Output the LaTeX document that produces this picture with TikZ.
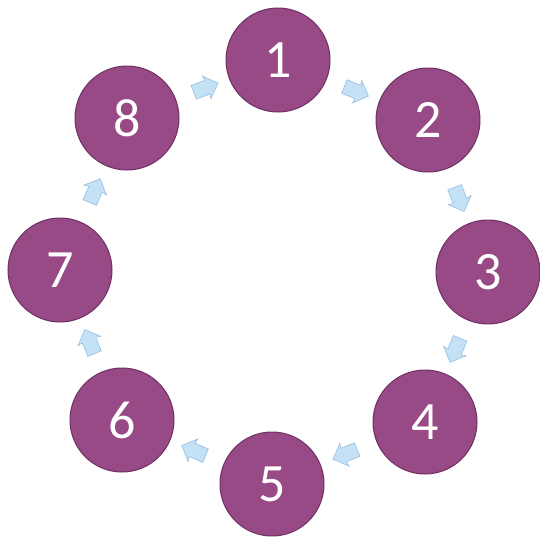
\documentclass[tikz,border=0pt]{standalone}
\usepackage{fontspec}
\setmainfont{Carlito}
\usepackage{tikz}
\usetikzlibrary{shapes.arrows, positioning}

\definecolor{stagepurple}{RGB}{152,74,134}
\definecolor{stageedge}{RGB}{110,48,98}
\definecolor{flowblue}{RGB}{196,226,246}
\definecolor{flowedge}{RGB}{150,190,225}

\begin{document}
\begin{tikzpicture}[x=1pt, y=-1pt, thick,
    stage/.style={circle, draw=stageedge, line width=1pt, fill=stagepurple, minimum size=104pt, inner sep=0pt, text=white, font=\fontsize{54}{54}\selectfont},
    flow/.style={single arrow, draw=flowedge, line width=0.6pt, fill=flowblue, minimum height=26pt, inner xsep=0pt, inner ysep=7pt, single arrow head extend=5pt, single arrow head indent=1pt, sloped, allow upside down}]

\useasboundingbox (0,0) rectangle (540,536);

\node[stage] (s1) at (278,60) {1};
\node[stage] (s2) at (428,120) {2};
\node[stage] (s3) at (488,272) {3};
\node[stage] (s4) at (425,422) {4};
\node[stage] (s5) at (272,484) {5};
\node[stage] (s6) at (122,420) {6};
\node[stage] (s7) at (60,270) {7};
\node[stage] (s8) at (127,118) {8};

\path (s1) -- node[flow] {} (s2);
\path (s2) -- node[flow] {} (s3);
\path (s3) -- node[flow] {} (s4);
\path (s4) -- node[flow] {} (s5);
\path (s5) -- node[flow] {} (s6);
\path (s6) -- node[flow] {} (s7);
\path (s7) -- node[flow] {} (s8);
\path (s8) -- node[flow] {} (s1);
\end{tikzpicture}
\end{document}
